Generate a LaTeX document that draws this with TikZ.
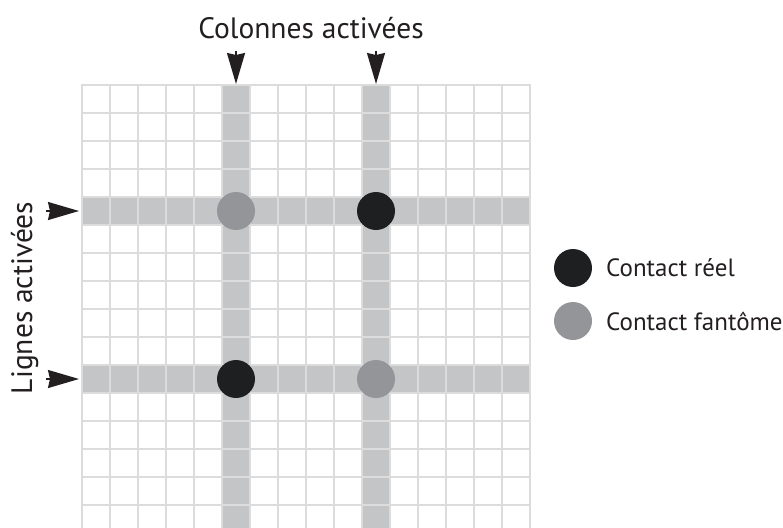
\documentclass[tikz,border=0pt]{standalone}
\usepackage{fontspec}
\setmainfont{PT Sans}
\usetikzlibrary{arrows.meta}
\definecolor{gridc}{HTML}{DCDCDC}
\definecolor{bandc}{HTML}{C4C5C7}
\definecolor{realc}{HTML}{1E1F21}
\definecolor{ghostc}{HTML}{939598}
\definecolor{inkc}{HTML}{231F20}
\tikzset{
  gridline/.style={draw=gridc, line width=2.6pt},
  band/.style={fill=bandc, draw=none},
  pin/.style={draw=inkc, line width=1.6pt, -{Stealth[width=18pt,length=31pt,inset=2pt]}},
  realdot/.style={circle, fill=realc, minimum size=38pt, inner sep=0pt},
  ghostdot/.style={circle, fill=ghostc, minimum size=38pt, inner sep=0pt},
  lbl/.style={inner sep=0pt, anchor=west, font=\fontsize{25pt}{28pt}\selectfont, text=inkc},
  title/.style={font=\fontsize{29.5pt}{33pt}\selectfont, text=inkc, anchor=base, inner sep=0pt},
}
\begin{document}
\begin{tikzpicture}[x=1pt,y=-1pt]
\useasboundingbox (0,0) rectangle (783,527);
\begin{scope}
\clip (0,0) rectangle (783,527);
% active bands
\fill[band] (222,85) rectangle (250,530);
\fill[band] (362,85) rectangle (390,530);
\fill[band] (82,197) rectangle (530,225);
\fill[band] (82,365) rectangle (530,393);
% grid
\foreach \i in {0,...,16} {\draw[gridline] (82+28*\i,84) -- (82+28*\i,530);}
\foreach \j in {0,...,15} {\draw[gridline] (81,85+28*\j) -- (531,85+28*\j);}
\end{scope}
% contacts
\node[ghostdot] (g1) at (236,211) {};
\node[realdot]  (r1) at (376,211) {};
\node[realdot]  (r2) at (236,379) {};
\node[ghostdot] (g2) at (376,379) {};
% arrows
\coordinate (c1s) at (236,51); \coordinate (c1e) at (236,84);
\coordinate (c2s) at (376,51); \coordinate (c2e) at (376,84);
\coordinate (l1s) at (46,211); \coordinate (l1e) at (79,211);
\coordinate (l2s) at (46,379); \coordinate (l2e) at (79,379);
\draw[pin] (c1s) -- (c1e);
\draw[pin] (c2s) -- (c2e);
\draw[pin] (l1s) -- (l1e);
\draw[pin] (l2s) -- (l2e);
% titles
\node[title] (tcol) at (311,39) {Colonnes activées};
\node[title, rotate=90] (trow) at (32,298) {Lignes activées};
% legend
\node[realdot]  (lr) at (573,268) {};
\node[ghostdot] (lg) at (573,321) {};
\node[lbl] (tr) at (606,268) {Contact réel};
\node[lbl] (tg) at (606,321) {Contact fantôme};
\end{tikzpicture}
\end{document}
